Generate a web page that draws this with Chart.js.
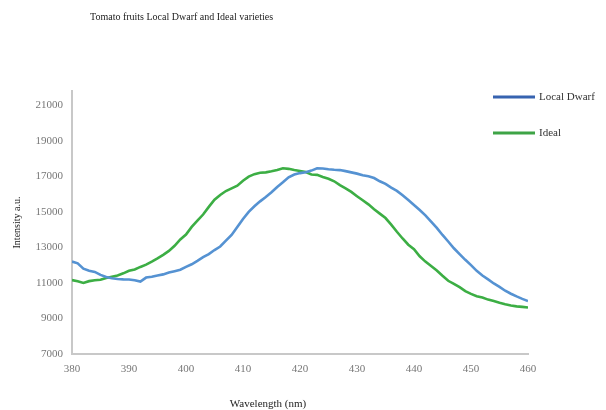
<!DOCTYPE html>
<html>
<head>
<meta charset="utf-8">
<script src="https://cdn.jsdelivr.net/npm/chart.js@4/dist/chart.umd.min.js"></script>
<style>
  html, body { margin: 0; padding: 0; background: #fff; }
  #wrap { width: 606px; height: 410px; }
</style>
</head>
<body>
<div id="wrap"><canvas id="chart1"></canvas></div>
<script>
// wavelength (nm), 1 nm steps
const wavelengths = [];
for (let w = 380; w <= 460; w++) wavelengths.push(w);

const localDwarf = [
  12200, 12100, 11800, 11680, 11620, 11450, 11330, 11260, 11220, 11200,
  11190, 11150, 11080, 11300, 11350, 11420, 11480, 11580, 11660, 11740,
  11900, 12050, 12240, 12450, 12620, 12850, 13050, 13380, 13700, 14150,
  14600, 15000, 15310, 15590, 15830, 16100, 16400, 16660, 16940, 17100,
  17180, 17230, 17320, 17450, 17440, 17400, 17370, 17350, 17290, 17220,
  17150, 17060, 17000, 16900, 16720, 16570, 16360, 16180, 15930, 15660,
  15380, 15100, 14800, 14450, 14100, 13700, 13330, 12950, 12620, 12300,
  12000, 11680, 11420, 11200, 10970, 10780, 10560, 10390, 10240, 10100,
  9980
];

const ideal = [
  11160, 11100, 11000, 11100, 11150, 11180, 11280, 11350, 11420, 11540,
  11680, 11760, 11900, 12030, 12200, 12380, 12580, 12800, 13090, 13450,
  13720, 14150, 14500, 14850, 15280, 15680, 15950, 16170, 16320, 16470,
  16750, 16980, 17120, 17200, 17220, 17280, 17350, 17450, 17420, 17350,
  17300, 17240, 17100, 17080, 16960, 16860, 16720, 16500, 16320, 16120,
  15880, 15650, 15420, 15150, 14900, 14650, 14280, 13880, 13500, 13150,
  12900, 12500, 12200, 11950, 11700, 11400, 11120, 10950, 10760, 10540,
  10380, 10250, 10180, 10060, 9980, 9880, 9800, 9730, 9680, 9650,
  9620
];

const xTicks = [380, 390, 400, 410, 420, 430, 440, 450, 460];
const yTicks = [7000, 9000, 11000, 13000, 15000, 17000, 19000, 21000];

const serif = "'Liberation Serif', 'Times New Roman', serif";
const legendColors = ["#3763b0", "#3ea446"];

// title, axis caption and legend drawn at the positions used in the original figure
const extras = {
  id: "extras",
  afterDraw(chart) {
    const ctx = chart.ctx;
    ctx.save();
    ctx.fillStyle = "#222";
    ctx.font = "10px " + serif;
    ctx.textBaseline = "middle";
    ctx.textAlign = "left";
    ctx.fillText("Tomato fruits Local Dwarf and Ideal varieties", 90, 17);

    ctx.font = "11px " + serif;
    ctx.textAlign = "center";
    ctx.fillText("Wavelength (nm)", 268, 404);

    chart.data.datasets.forEach((ds, i) => {
      const y = 97 + i * 36;
      ctx.strokeStyle = legendColors[i];
      ctx.lineWidth = 3;
      ctx.beginPath();
      ctx.moveTo(493, y);
      ctx.lineTo(535, y);
      ctx.stroke();
      ctx.fillStyle = "#333";
      ctx.textAlign = "left";
      ctx.fillText(ds.label, 539, y);
    });
    ctx.restore();
  }
};

new Chart(document.getElementById("chart1"), {
  type: "line",
  data: {
    labels: wavelengths,
    datasets: [{
      label: "Local Dwarf",
      data: localDwarf,
      borderColor: "#5592d2",
      borderWidth: 2.6,
      pointRadius: 0,
      tension: 0,
    }, {
      label: "Ideal",
      data: ideal,
      borderColor: "#3cae44",
      borderWidth: 2.6,
      pointRadius: 0,
      tension: 0,
    }]
  },
  options: {
    responsive: true,
    maintainAspectRatio: false,
    animation: false,
    layout: { padding: { top: 91, right: 78, left: 0, bottom: 0 } },
    plugins: {
      legend: { display: false },
      tooltip: { enabled: false },
    },
    scales: {
      x: {
        type: "linear",
        min: 380,
        max: 460,
        afterBuildTicks: (s) => { s.ticks = xTicks.map(v => ({ value: v })); },
        afterFit: (s) => { s.height = 56; },
        grid: { display: false, drawTicks: false },
        border: { color: "#c8c8c8", width: 2 },
        ticks: {
          color: "#777",
          font: { family: serif, size: 11 },
          padding: 9,
          maxRotation: 0,
        },
      },
      y: {
        min: 7000,
        max: 21800,
        afterBuildTicks: (s) => { s.ticks = yTicks.map(v => ({ value: v })); },
        afterFit: (s) => { s.width = 72; },
        grid: { display: false, drawTicks: false },
        border: { color: "#c8c8c8", width: 2 },
        ticks: {
          color: "#777",
          font: { family: serif, size: 11 },
          padding: 9,
          callback: (v) => String(v),
        },
        title: {
          display: true,
          text: "Intensity a.u.",
          color: "#222",
          font: { family: serif, size: 10 },
          padding: { top: 11, bottom: 0 },
        },
      }
    }
  },
  plugins: [extras]
});
</script>
</body>
</html>
